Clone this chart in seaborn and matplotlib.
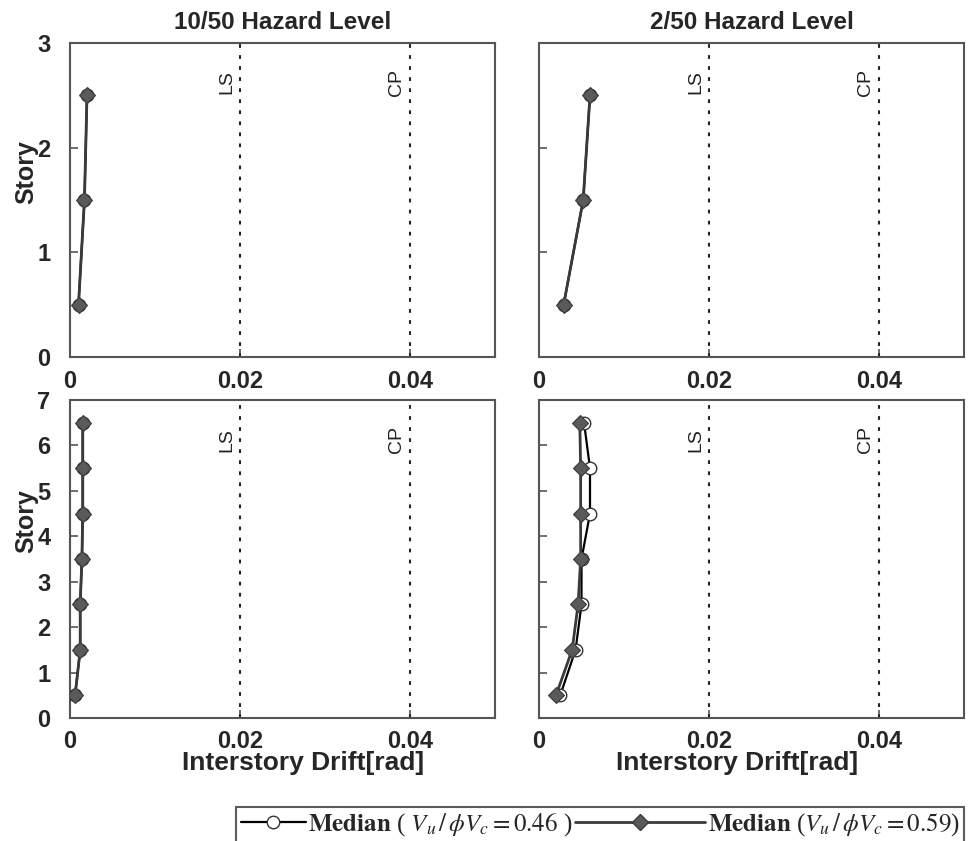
import matplotlib
matplotlib.use("Agg")
import matplotlib.pyplot as plt
from matplotlib.lines import Line2D
from matplotlib.legend_handler import HandlerLine2D
import matplotlib.transforms as mtransforms
import seaborn as sns
import pandas as pd

# ---------------- data ----------------
stories_3 = [0.5, 1.5, 2.5]
stories_7 = [0.5, 1.5, 2.5, 3.5, 4.5, 5.5, 6.5]

# 3-story building
drift3_1050_046 = [0.0010, 0.0017, 0.0020]
drift3_1050_059 = [0.0010, 0.0017, 0.0020]
drift3_250_046 = [0.0029, 0.0052, 0.0060]
drift3_250_059 = [0.0029, 0.0052, 0.0060]

# 7-story building
drift7_1050_046 = [0.0006, 0.0012, 0.0012, 0.0014, 0.0015, 0.0015, 0.0015]
drift7_1050_059 = [0.0006, 0.0012, 0.0012, 0.0014, 0.0015, 0.0015, 0.0015]
drift7_250_046 = [0.0025, 0.0043, 0.0050, 0.0050, 0.0060, 0.0060, 0.0053]
drift7_250_059 = [0.0020, 0.0039, 0.0046, 0.0049, 0.0049, 0.0049, 0.0048]

limit_values = [0.02, 0.04]
limit_labels = ["LS", "CP"]
titles = ["10/50 Hazard Level", "2/50 Hazard Level"]
series_labels = [r"$\mathbf{Median}$ ( $V_u\,/\,\phi V_c = 0.46$ )",
                 r"$\mathbf{Median}$ ($V_u\,/\,\phi V_c = 0.59$)"]
xticks = [0, 0.02, 0.04]
xticklabels = ["0", "0.02", "0.04"]

# ---------------- style ----------------
sns.set_style("white")
plt.rcParams["font.family"] = ["Liberation Sans", "DejaVu Sans"]
plt.rcParams["mathtext.fontset"] = "stix"

fig = plt.figure(figsize=(9.73, 8.41), dpi=100)

W = 973.0
H = 841.0
lw_ax, rw_ax = 70 / W, 539 / W
wid = 425 / W
top_b, top_h = (H - 357) / H, 314 / H
bot_b, bot_h = (H - 718) / H, 318 / H

ax_tl = fig.add_axes([lw_ax, top_b, wid, top_h])
ax_tr = fig.add_axes([rw_ax, top_b, wid, top_h])
ax_bl = fig.add_axes([lw_ax, bot_b, wid, bot_h])
ax_br = fig.add_axes([rw_ax, bot_b, wid, bot_h])

panels = [
    (ax_tl, stories_3, drift3_1050_046, drift3_1050_059, 3),
    (ax_tr, stories_3, drift3_250_046, drift3_250_059, 3),
    (ax_bl, stories_7, drift7_1050_046, drift7_1050_059, 7),
    (ax_br, stories_7, drift7_250_046, drift7_250_059, 7),
]

c046 = "black"
c059 = "#3a3a3a"

for i, (ax, st, d46, d59, ymax) in enumerate(panels):
    df46 = pd.DataFrame({"drift": d46, "story": st})
    df59 = pd.DataFrame({"drift": d59, "story": st})
    sns.lineplot(data=df46, x="drift", y="story", orient="y", ax=ax,
                 color=c046, lw=1.6, marker="o", markersize=9,
                 markerfacecolor="white", markeredgecolor="#333333",
                 markeredgewidth=1.0, zorder=3)
    sns.lineplot(data=df59, x="drift", y="story", orient="y", ax=ax,
                 color=c059, lw=2.0, marker="D", markersize=8,
                 markerfacecolor="#5a5a5a", markeredgecolor="#3a3a3a",
                 markeredgewidth=0.8, zorder=4)
    ax.set_xlim(0, 0.05)
    ax.set_ylim(0, ymax)
    ax.set_xticks(xticks)
    ax.set_xticklabels(xticklabels)
    ax.set_yticks(range(0, ymax + 1))
    for sp in ax.spines.values():
        sp.set_color("#555555")
        sp.set_linewidth(1.5)
    ax.tick_params(direction="in", length=6, width=1.2, color="#555555",
                   labelsize=17, pad=9, bottom=True, left=True)
    ax.tick_params(axis="y", pad=14)
    for lab in ax.get_xticklabels() + ax.get_yticklabels():
        lab.set_fontweight("bold")
    trans = mtransforms.blended_transform_factory(ax.transData, ax.transAxes)
    for xv, lab in zip(limit_values, limit_labels):
        ax.axvline(xv, color="#222222", lw=1.5, ls=(0, (1.8, 3.5)), zorder=1)
        ax.text(xv - 0.0006, 0.875, lab, transform=trans, rotation=90,
                ha="right", va="center", fontsize=14, color="#222222")
    ax.set_xlabel("")
    ax.set_ylabel("")
    if i in (1, 3):
        ax.set_yticklabels([])
    if i in (0, 2):
        ax.set_ylabel("Story", fontsize=18, fontweight="bold")
    if i in (2, 3):
        ax.set_xlabel("Interstory Drift[rad]", fontsize=19, fontweight="bold")
    if i in (0, 1):
        ax.set_title(titles[i], fontsize=17.5, fontweight="bold", pad=10)

ax_tl.yaxis.set_label_coords(-0.075, 0.59)
ax_bl.yaxis.set_label_coords(-0.075, 0.62)
ax_bl.xaxis.set_label_coords(0.548, -0.105)
ax_br.xaxis.set_label_coords(0.466, -0.105)


class ExtendedLineHandler(HandlerLine2D):
    """Line handle that reaches further to the left than the handle box."""

    def __init__(self, ext=0.0, **kw):
        super().__init__(**kw)
        self.ext = ext

    def create_artists(self, legend, orig_handle, xdescent, ydescent,
                       width, height, fontsize, trans):
        return super().create_artists(legend, orig_handle,
                                      xdescent + self.ext, ydescent,
                                      width + self.ext, height, fontsize,
                                      trans)


leg_fs = 18
h46 = Line2D([], [], color=c046, lw=1.6, marker="o", markersize=9,
             markerfacecolor="white", markeredgecolor="#333333")
h59 = Line2D([], [], color=c059, lw=2.0, marker="D", markersize=8,
             markerfacecolor="#5a5a5a", markeredgecolor="#3a3a3a")
colsp = 2.7
leg = fig.legend([h46, h59], series_labels, loc="center",
                 bbox_to_anchor=(600 / W, 1 - 825 / H), ncol=2,
                 frameon=True, fancybox=False, handlelength=2.6,
                 handletextpad=0.1, columnspacing=colsp, borderpad=0.2,
                 handler_map={h59: ExtendedLineHandler(ext=(colsp - 0.1) * leg_fs)},
                 prop={"family": "Liberation Serif", "size": leg_fs})
leg.get_frame().set_edgecolor("#333333")
leg.get_frame().set_linewidth(1.5)

fig.savefig("out.png", dpi=100)
